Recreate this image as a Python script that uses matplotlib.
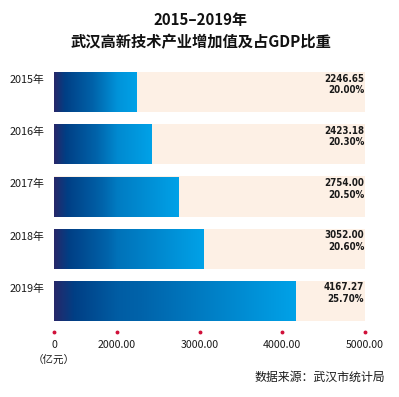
import numpy as np
import matplotlib
matplotlib.use("Agg")
import matplotlib.pyplot as plt
from matplotlib.colors import LinearSegmentedColormap
from matplotlib.transforms import blended_transform_factory

plt.rcParams['font.family'] = ['Noto Sans CJK SC', 'DejaVu Sans']

years = ['2015年', '2016年', '2017年', '2018年', '2019年']
values = [2246.65, 2423.18, 2754.00, 3052.00, 4167.27]
shares = ['20.00%', '20.30%', '20.50%', '20.60%', '25.70%']
ticks = [0, 2000, 3000, 4000, 5000]
tick_labels = ['0', '2000.00', '3000.00', '4000.00', '5000.00']
x_max = 5000

# the axis is broken: 0-2000 is squeezed, then 1000 per step
brk_x = [0, 2000, 5000]
brk_u = [0, 0.763, 3.763]


def fwd(v):
    return np.interp(v, brk_x, brk_u)


def inv(u):
    return np.interp(u, brk_u, brk_x)


grad = LinearSegmentedColormap.from_list(
    'bar', [(0, '#26286a'), (0.15, '#003f85'), (0.55, '#0063aa'), (1, '#00a2e8')])

fig = plt.figure(figsize=(3.99, 3.97), dpi=100)
W, H = 399, 397
ax = fig.add_axes([54 / W, 1 - 321 / H, (365 - 54) / W, (321 - 72) / H])
ax.set_xscale('function', functions=(fwd, inv))
ax.set_xlim(0, x_max)
ax.set_ylim(len(years) - 0.615, -0.385)
ax.axis('off')

h = 0.77
g = np.linspace(0, 1, 256).reshape(1, -1)
for i, v in enumerate(values):
    ax.barh(i, x_max, height=h, color='#fdf0e5', zorder=1)
    ax.imshow(g, cmap=grad, aspect='auto', extent=[0, v, i + h / 2, i - h / 2],
              zorder=2, interpolation='bilinear')

ax.set_xlim(0, x_max)
ax.set_ylim(len(years) - 0.615, -0.385)

ya = blended_transform_factory(ax.transAxes, ax.transData)
xd = blended_transform_factory(ax.transData, ax.transAxes)

for i, (yr, v, s) in enumerate(zip(years, values, shares)):
    ax.text(-0.03, i - 0.235, yr, transform=ya, ha='right', va='center',
            fontsize=7.8, color='#1a1a1a')
    ax.text(x_max * 0.998, i - h / 2 + 0.03, '%.2f\n%s' % (v, s),
            ha='right', va='top', fontsize=7.0, fontweight='bold',
            family='DejaVu Sans', fontstretch='condensed',
            color='#1a1a1a', linespacing=1.2, zorder=3)

ax.plot(ticks, [-0.044] * len(ticks), 'o', ms=1.8, color='#d0103a',
        transform=xd, clip_on=False)
for t, lab in zip(ticks, tick_labels):
    ax.text(t, -0.097, lab, transform=xd, ha='center', va='center',
            fontsize=7.6, color='#1a1a1a')
ax.text(0, -0.157, '（亿元）', transform=xd, ha='center', va='center',
        fontsize=7.6, color='#1a1a1a')

fig.text(201 / W, 1 - 20 / H, '2015–2019年', ha='center', va='center',
         fontsize=10.8, fontweight='bold', color='#111111')
fig.text(201 / W, 1 - 42 / H, '武汉高新技术产业增加值及占GDP比重', ha='center',
         va='center', fontsize=11, fontweight='bold', color='#111111')
fig.text(385 / W, 1 - 377 / H, '数据来源：武汉市统计局', ha='right', va='center',
         fontsize=8.6, color='#1a1a1a')

fig.savefig('out.png', dpi=100)
